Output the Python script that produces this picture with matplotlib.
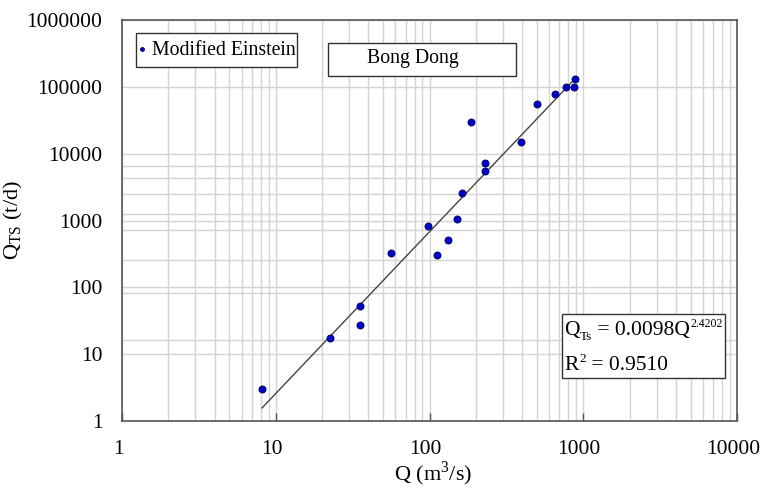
import matplotlib
matplotlib.use("Agg")
import matplotlib.pyplot as plt
import matplotlib.transforms as mtransforms
from matplotlib.patches import Rectangle
from matplotlib.ticker import FixedLocator, NullFormatter
import numpy as np

# data (Q in m3/s, Qts in t/d)
q_obs = [8.15, 22.6, 35.4, 35.4, 56.2, 97.9, 112, 132, 151, 163, 187, 230, 230,
         394, 501, 656, 774, 873, 880]
qts_obs = [3.0, 17.5, 52.6, 27.3, 326, 828, 305, 511, 1054, 2580, 29800, 5510, 7250,
           14960, 55400, 78200, 99500, 99500, 131000]

# power fit shown on the chart
fit_a = 0.0098
fit_b = 2.4202
fit_r2 = 0.9510

x_ticks = [1, 10, 100, 1000, 10000]
y_ticks = [1, 10, 100, 1000, 10000, 100000, 1000000]
# the odd extra horizontal grid lines of the original
y_extra_grid = [16.3, 82, 257, 721, 1250, 2500, 4300, 6500]

plt.rcParams['font.family'] = ['Liberation Serif', 'DejaVu Serif']
plt.rcParams['mathtext.fontset'] = 'custom'
plt.rcParams['mathtext.rm'] = 'Liberation Serif'

fig = plt.figure(figsize=(7.61, 4.88), dpi=100)
ax = fig.add_axes([0.1603, 0.1373, 0.8082, 0.8217])
ax.set_xscale('log')
ax.set_yscale('log')
ax.set_xlim(1, 10000)
ax.set_ylim(1, 1000000)

# grid
ax.xaxis.set_major_locator(FixedLocator(x_ticks))
ax.xaxis.set_minor_locator(FixedLocator([m * d for d in [1, 10, 100, 1000] for m in range(2, 10)]))
ax.xaxis.set_minor_formatter(NullFormatter())
ax.yaxis.set_major_locator(FixedLocator(y_ticks))
ax.yaxis.set_minor_locator(FixedLocator(y_extra_grid))
ax.yaxis.set_minor_formatter(NullFormatter())
ax.set_xticklabels([str(v) for v in x_ticks])
ax.set_yticklabels([str(v) for v in y_ticks])
ax.grid(True, which='both', color='#d4d4d4', lw=1.0)
ax.set_axisbelow(True)

ax.tick_params(axis='x', which='major', direction='in', length=6, width=1, color='#555555',
               labelsize=15.5, pad=14)
ax.tick_params(axis='y', which='major', length=0, labelsize=15.5, pad=14)
ax.tick_params(which='minor', length=0)
# x tick labels sit a little left of their ticks in the original
shift = mtransforms.ScaledTranslation(-4 / 100, 0, fig.dpi_scale_trans)
for lab in ax.get_xticklabels():
    lab.set_transform(lab.get_transform() + shift)
for s in ax.spines.values():
    s.set_color('#555555')
    s.set_linewidth(1.2)

# fitted line
xf = np.linspace(min(q_obs), max(q_obs), 200)
ax.plot(xf, fit_a * xf ** fit_b, color='#444444', lw=1.0, zorder=3)

# points
ax.scatter(q_obs, qts_obs, s=26, color='#0000cc', edgecolor='#000055', lw=0.6, zorder=4,
           label='Modified Einstein')

# legend box
ax.add_patch(Rectangle((0.0228, 0.8828), 0.2618, 0.0848, transform=ax.transAxes,
                       fc='white', ec='#333333', lw=1.0, zorder=5))
leg = ax.legend(loc='center left', bbox_to_anchor=(0.017, 0.925), fontsize=14.2, frameon=False,
                handletextpad=0.0, borderpad=0.0, borderaxespad=0, markerscale=0.55,
                handlelength=1.0)
leg.set_zorder(6)

# site name box
ax.add_patch(Rectangle((0.335, 0.8603), 0.3057, 0.0823, transform=ax.transAxes,
                       fc='white', ec='#333333', lw=1.0, zorder=5))
ax.text(0.398, 0.903, 'Bong Dong', transform=ax.transAxes, fontsize=14.2,
        va='center', ha='left', zorder=6)

# equation box
ax.add_patch(Rectangle((0.7154, 0.1072), 0.2651, 0.1596, transform=ax.transAxes,
                       fc='white', ec='#333333', lw=1.0, zorder=5))
t1 = ax.text(0.7195, 0.215, 'Q', transform=ax.transAxes, fontsize=15.5,
             va='baseline', ha='left', zorder=6)
ax.annotate('Ts', xy=(1, 0), xycoords=t1, xytext=(0, -2.5), textcoords='offset points',
            fontsize=9.5, va='bottom', ha='left', zorder=6)
t3 = ax.annotate(' = %.4fQ' % fit_a, xy=(1, 0), xycoords=t1, xytext=(8.5, 0),
                 textcoords='offset points', fontsize=15.5, va='bottom', ha='left', zorder=6)
ax.annotate('%.4f' % fit_b, xy=(1, 1), xycoords=t3, xytext=(0.5, 2.0),
            textcoords='offset points', fontsize=8.5, va='top', ha='left', zorder=6)
r1 = ax.text(0.7195, 0.128, 'R', transform=ax.transAxes, fontsize=15.5,
             va='baseline', ha='left', zorder=6)
ax.annotate('2', xy=(1, 1), xycoords=r1, xytext=(0.5, 2.0), textcoords='offset points',
            fontsize=9.5, va='top', ha='left', zorder=6)
ax.annotate(' = %.4f' % fit_r2, xy=(1, 0), xycoords=r1, xytext=(5, 0),
            textcoords='offset points', fontsize=15.5, va='bottom', ha='left', zorder=6)

ax.set_xlabel('Q (m$^{\\mathregular{3}}$/s)', fontsize=16)
ax.xaxis.set_label_coords(0.506, -0.095)
ax.set_ylabel('$\\mathregular{Q_{TS}}$ (t/d)', fontsize=16)
ax.yaxis.set_label_coords(-0.158, 0.5)

fig.savefig('out.png', dpi=100)
